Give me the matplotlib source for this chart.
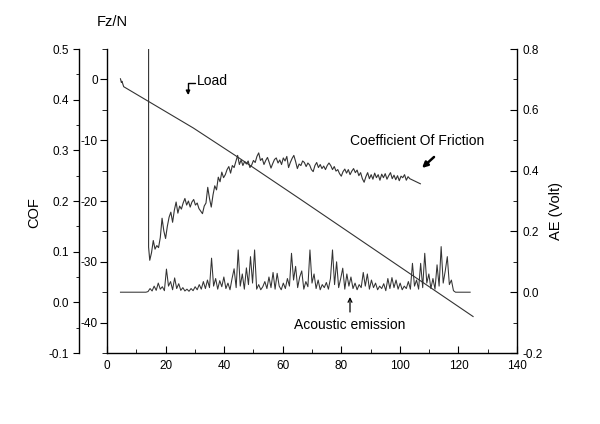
import numpy as np
import matplotlib
matplotlib.use('Agg')
import matplotlib.pyplot as plt
from matplotlib.ticker import MultipleLocator, FormatStrFormatter

plt.rcParams['font.family'] = ['Liberation Sans', 'DejaVu Sans']
plt.rcParams['axes.unicode_minus'] = False

# Load (Fz/N) vs time
load_x = [4.6, 4.9, 5.1, 5.7, 29.5, 44.4, 66.0, 125.0]
load_fz = [0.1, -0.5, -0.3, -1.2, -8.0, -12.7, -19.7, -39.0]

# Coefficient of friction: start spike, then sampled every 0.6 from x=14.6, then tail
cof_spike_x = [14.2, 14.2]
cof_spike_y = [0.5, 0.109]
cof_vals = [
    0.083, 0.098, 0.122, 0.105, 0.112, 0.108, 0.128, 0.166, 0.141, 0.126,
    0.150, 0.168, 0.178, 0.158, 0.182, 0.198, 0.176, 0.190, 0.184, 0.196,
    0.205, 0.192, 0.200, 0.188, 0.198, 0.203, 0.192, 0.196, 0.185, 0.180,
    0.175, 0.190, 0.196, 0.227, 0.205, 0.188, 0.212, 0.230, 0.222, 0.247,
    0.238, 0.257, 0.246, 0.252, 0.262, 0.268, 0.255, 0.270, 0.266, 0.278,
    0.290, 0.272, 0.281, 0.270, 0.278, 0.273, 0.279, 0.266, 0.271, 0.280,
    0.276, 0.288, 0.295, 0.280, 0.284, 0.272, 0.280, 0.286, 0.276, 0.265,
    0.274, 0.282, 0.285, 0.275, 0.281, 0.272, 0.285, 0.279, 0.288, 0.266,
    0.276, 0.284, 0.290, 0.278, 0.264, 0.273, 0.270, 0.279, 0.276, 0.268,
    0.275, 0.271, 0.262, 0.258, 0.270, 0.276, 0.266, 0.272, 0.264, 0.269,
    0.262, 0.270, 0.275, 0.270, 0.262, 0.268, 0.259, 0.262, 0.254, 0.249,
    0.258, 0.263, 0.255, 0.262, 0.252, 0.259, 0.264, 0.256, 0.261, 0.250,
    0.256, 0.244, 0.237, 0.248, 0.256, 0.244, 0.252, 0.243, 0.255, 0.246,
    0.252, 0.241, 0.253, 0.246, 0.254, 0.243, 0.250, 0.256, 0.244, 0.251,
    0.242, 0.250, 0.240, 0.249, 0.246, 0.252, 0.241, 0.248, 0.244,
]
cof_tail_x = [107.0]
cof_tail_y = [0.234]

# Acoustic emission: flat lead-in, samples every 0.7 from x=14, flat tail
ae_lead_x = [4.6, 13.3]
ae_lead_y = [0.0, 0.0]
ae_vals = [
    0.002, 0.012, 0.004, 0.020, 0.006, 0.030, 0.010, 0.018, 0.005, 0.076,
    0.020, 0.035, 0.008, 0.047, 0.012, 0.028, 0.006, 0.015, 0.004, 0.010,
    0.003, 0.012, 0.005, 0.018, 0.008, 0.025, 0.010, 0.035, 0.012, 0.040,
    0.015, 0.112, 0.020, 0.045, 0.010, 0.038, 0.018, 0.050, 0.012, 0.030,
    0.008, 0.045, 0.077, 0.015, 0.139, 0.020, 0.060, 0.010, 0.080, 0.025,
    0.117, 0.030, 0.139, 0.010, 0.025, 0.008, 0.018, 0.035, 0.012, 0.050,
    0.015, 0.065, 0.010, 0.062, 0.020, 0.008, 0.030, 0.012, 0.045, 0.020,
    0.128, 0.040, 0.085, 0.015, 0.050, 0.070, 0.010, 0.035, 0.018, 0.139,
    0.030, 0.060, 0.012, 0.040, 0.008, 0.025, 0.015, 0.032, 0.010, 0.045,
    0.139, 0.025, 0.100, 0.015, 0.045, 0.079, 0.010, 0.060, 0.020, 0.050,
    0.012, 0.030, 0.008, 0.025, 0.015, 0.065, 0.020, 0.060, 0.010, 0.040,
    0.015, 0.030, 0.008, 0.020, 0.012, 0.028, 0.005, 0.045, 0.012, 0.048,
    0.015, 0.040, 0.010, 0.030, 0.008, 0.020, 0.012, 0.035, 0.010, 0.095,
    0.020, 0.040, 0.010, 0.095, 0.015, 0.128, 0.030, 0.060, 0.012, 0.045,
    0.010, 0.090, 0.020, 0.150, 0.030, 0.070, 0.117, 0.025, 0.040, 0.005,
]
ae_tail_x = [119.0, 124.0]
ae_tail_y = [0.0, 0.0]

line_col = '#333333'
tick_fs = 8.5

fig = plt.figure(figsize=(6, 4.24), dpi=100)
ax = fig.add_axes([107/600, 71/424, 410/600, 304/424])

# main axes: time on x, load on inner left axis
ax.plot(load_x, load_fz, color=line_col, lw=0.8)
ax.set_xlim(0, 140)
ax.set_ylim(-45, 5)
ax.spines['top'].set_visible(False)
ax.spines['right'].set_visible(False)
ax.xaxis.set_major_locator(MultipleLocator(20))
ax.xaxis.set_minor_locator(MultipleLocator(10))
ax.set_yticks([0, -10, -20, -30, -40])
ax.yaxis.set_minor_locator(MultipleLocator(5))
ax.tick_params(axis='x', which='both', direction='in', labelsize=tick_fs, pad=5)
ax.tick_params(axis='x', which='major', length=5)
ax.tick_params(axis='x', which='minor', length=3)
ax.tick_params(axis='y', which='both', direction='out', labelsize=tick_fs, pad=1.5)
ax.tick_params(axis='y', which='major', length=5)
ax.tick_params(axis='y', which='minor', length=3.5)

# COF axis, offset to the left
ax_cof = ax.twinx()
cof_x = 14.6 + 0.6 * np.arange(len(cof_vals))
ax_cof.plot(cof_spike_x + list(cof_x) + cof_tail_x,
            cof_spike_y + cof_vals + cof_tail_y, color=line_col, lw=0.8)
ax_cof.set_ylim(-0.1, 0.5)
for s in ['top', 'right', 'bottom']:
    ax_cof.spines[s].set_visible(False)
ax_cof.spines['left'].set_visible(True)
ax_cof.spines['left'].set_position(('outward', 20.2))
ax_cof.yaxis.tick_left()
ax_cof.yaxis.set_major_locator(MultipleLocator(0.1))
ax_cof.yaxis.set_minor_locator(MultipleLocator(0.05))
ax_cof.yaxis.set_major_formatter(FormatStrFormatter('%.1f'))
ax_cof.tick_params(axis='y', which='both', direction='out', labelsize=tick_fs, pad=3)
ax_cof.tick_params(axis='y', which='major', length=4.5)
ax_cof.tick_params(axis='y', which='minor', length=2.5)

# AE axis on the right
ax_ae = ax.twinx()
ae_x = 14.0 + 0.7 * np.arange(len(ae_vals))
ax_ae.plot(ae_lead_x + list(ae_x) + ae_tail_x,
           ae_lead_y + ae_vals + ae_tail_y, color=line_col, lw=0.75)
ax_ae.set_ylim(-0.2, 0.8)
for s in ['top', 'left', 'bottom']:
    ax_ae.spines[s].set_visible(False)
ax_ae.yaxis.set_major_locator(MultipleLocator(0.2))
ax_ae.yaxis.set_minor_locator(MultipleLocator(0.1))
ax_ae.yaxis.set_major_formatter(FormatStrFormatter('%.1f'))
ax_ae.tick_params(axis='y', which='both', direction='in', labelsize=tick_fs, pad=4)
ax_ae.tick_params(axis='y', which='major', length=5)
ax_ae.tick_params(axis='y', which='minor', length=3)

for a in (ax, ax_cof, ax_ae):
    for sp in a.spines.values():
        sp.set_linewidth(1.0)

# axis titles
def fpx(x, y):
    return x / 600, 1 - y / 424

fig.text(*fpx(34, 213), 'COF', rotation=90, ha='center', va='center', fontsize=10.5)
fig.text(*fpx(556, 211), 'AE (Volt)', rotation=90, ha='center', va='center', fontsize=10.5)
fig.text(*fpx(112, 22), 'Fz/N', ha='center', va='center', fontsize=10.5)

# annotations
fig.text(*fpx(197, 81), 'Load', ha='left', va='center', fontsize=10)
ax.annotate('', xy=fpx(188, 95), xytext=fpx(195, 83), xycoords='figure fraction',
            textcoords='figure fraction',
            arrowprops=dict(arrowstyle='-|>', connectionstyle='angle,angleA=180,angleB=90,rad=0',
                            color='k', lw=1.0, shrinkA=0, shrinkB=0, mutation_scale=6))

fig.text(*fpx(417, 141), 'Coefficient Of Friction', ha='center', va='center', fontsize=10)
ax.annotate('', xy=fpx(422, 168), xytext=fpx(434, 157), xycoords='figure fraction',
            textcoords='figure fraction',
            arrowprops=dict(arrowstyle='-|>', color='k', lw=1.8, shrinkA=0, shrinkB=0,
                            mutation_scale=8))

fig.text(*fpx(350, 325), 'Acoustic emission', ha='center', va='center', fontsize=10)
ax.annotate('', xy=fpx(350, 297), xytext=fpx(350, 312), xycoords='figure fraction',
            textcoords='figure fraction',
            arrowprops=dict(arrowstyle='->', color='k', lw=0.9, shrinkA=0, shrinkB=0,
                            mutation_scale=7))

fig.savefig('out.png', dpi=100)
